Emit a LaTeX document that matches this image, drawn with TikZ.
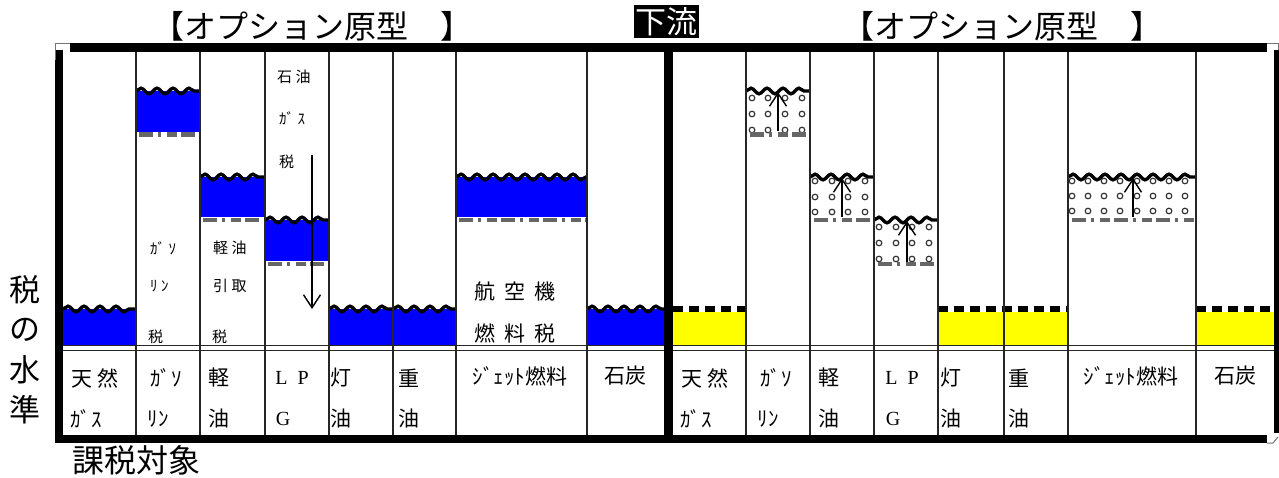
\documentclass[tikz,border=0pt]{standalone}
\usepackage{fontspec}
\setmainfont{Liberation Serif}
\newfontfamily\jp{Noto Sans CJK JP}
\usetikzlibrary{decorations.pathmorphing,arrows.meta}
\definecolor{tankblue}{RGB}{0,0,255}
\definecolor{tankyellow}{RGB}{255,255,0}
\begin{document}
\begin{tikzpicture}[x=1pt,y=-1pt,
  frame/.style={line width=8.5pt,black},
  colline/.style={line width=1.6pt,black!85},
  baseline2/.style={line width=1.2pt,black!85},
  wave/.style={line width=3.4pt,black,decorate,decoration={snake,segment length=16pt,amplitude=2.8pt}},
  hatch/.style={line width=4.5pt,black!60,dash pattern=on 14pt off 5pt on 3pt off 6pt on 10pt off 4pt},
  dashtop/.style={line width=6pt,black,dash pattern=on 10pt off 6pt},
  dotc/.style={line width=1.2pt,black!80},
  arr/.style={line width=1.4pt,black,-{Straight Barb[length=13pt,width=17pt,line width=1.4pt]}},
  title/.style={font=\jp\fontsize{32}{33}\selectfont,inner sep=0pt},
  side/.style={font=\jp\fontsize{31}{32}\selectfont,inner sep=0pt},
  cell/.style={font=\jp\fontsize{21}{22}\selectfont,inner sep=0pt},
  cellr/.style={font=\fontsize{20}{21}\selectfont,inner sep=0pt},
  small/.style={font=\jp\fontsize{15}{16}\selectfont,inner sep=0pt},
  mid/.style={font=\jp\fontsize{21}{22}\selectfont,inner sep=0pt}]
\useasboundingbox[fill=white] (0,0) rectangle (1279,478);

% ---------- titles ----------
\node[title] (tl) at (312,26) {【オプション原型　】};
\node[title] (tr) at (1002,26) {【オプション原型　】};
\node[fill=black,text=white,font=\jp\fontsize{31}{32}\selectfont,inner sep=0pt,minimum width=65pt,minimum height=33pt] (down) at (666.5,21.5) {下流};

% ---------- left panel fills (blue) ----------
\fill[tankblue] (63,309) rectangle (136,345);
\fill[tankblue] (136,91) rectangle (200,132);
\fill[tankblue] (200,177) rectangle (265,217);
\fill[tankblue] (265,220) rectangle (329,261);
\fill[tankblue] (329,309) rectangle (393,345);
\fill[tankblue] (393,309) rectangle (456,345);
\fill[tankblue] (456,177) rectangle (587,217);
\fill[tankblue] (587,309) rectangle (664,345);

% hatch under raised blue tanks
\draw[hatch] (139,134.5) -- (200,134.5);
\draw[hatch] (203,220) -- (265,220);
\draw[hatch] (268,264) -- (329,264);
\draw[hatch] (459,220) -- (587,220);

% waves on blue tanks
\draw[wave] (63,309) -- (136,309);
\draw[wave] (136,91) -- (200,91);
\draw[wave] (200,177) -- (265,177);
\draw[wave] (265,220) -- (329,220);
\draw[wave] (329,309) -- (393,309);
\draw[wave] (393,309) -- (456,309);
\draw[wave] (456,177) -- (587,177);
\draw[wave] (587,309) -- (664,309);

% ---------- right panel fills (yellow) ----------
\fill[tankyellow] (673,312) rectangle (746,345);
\fill[tankyellow] (938,312) rectangle (1068,345);
\fill[tankyellow] (1196,312) rectangle (1274,345);
\draw[dashtop] (673,308.5) -- (746,308.5);
\draw[dashtop] (938,308.5) -- (1068,308.5);
\draw[dashtop] (1196,308.5) -- (1274,308.5);

% ---------- right panel dotted tanks ----------
\foreach \cx in {752,768,785,802}{\foreach \cy in {98,114,130}{\draw[dotc] (\cx,\cy) circle[radius=2.8pt];}}
\foreach \cx in {815,832,848,865}{\foreach \cy in {181,197,212}{\draw[dotc] (\cx,\cy) circle[radius=2.8pt];}}
\foreach \cx in {879,896,912,929}{\foreach \cy in {227,243,259}{\draw[dotc] (\cx,\cy) circle[radius=2.8pt];}}
\foreach \cx in {1072,1088,1104,1120,1137,1153,1169,1185}{\foreach \cy in {181,196,211}{\draw[dotc] (\cx,\cy) circle[radius=2.8pt];}}
\draw[hatch] (750,134.5) -- (810,134.5);
\draw[hatch] (814,220) -- (874,220);
\draw[hatch] (878,264) -- (938,264);
\draw[hatch] (1072,220) -- (1196,220);
\draw[wave] (746,91) -- (810,91);
\draw[wave] (810,177) -- (874,177);
\draw[wave] (874,220) -- (938,220);
\draw[wave] (1068,177) -- (1196,177);

% ---------- arrows ----------
\coordinate (aL1) at (312,155); \coordinate (aL2) at (312,309);
\draw[arr] (aL1) -- (aL2);
\coordinate (g1) at (778,131); \coordinate (g2) at (778,92);
\coordinate (k1) at (842,217); \coordinate (k2) at (842,178);
\coordinate (p1) at (907,262); \coordinate (p2) at (907,221);
\coordinate (j1) at (1133,217); \coordinate (j2) at (1133,178);
\draw[arr] (g1) -- (g2);
\draw[arr] (k1) -- (k2);
\draw[arr] (p1) -- (p2);
\draw[arr] (j1) -- (j2);

% ---------- column lines ----------
\foreach \x in {136,200,265,329,393,456,587,746,810,874,938,1004,1068,1196}{
  \draw[colline] (\x,52) -- (\x,435);}
\draw[baseline2] (63,345.5) -- (1274,345.5);
\draw[baseline2] (63,350.5) -- (1274,350.5);

% ---------- frame ----------
\draw[frame] (70,47.5) -- (1267,47.5);
\draw[frame] (59,50) -- (59,443);
\draw[frame] (55,439) -- (1267,439);
\draw[line width=6pt] (1276.5,50) -- (1276.5,433);
\draw[line width=9pt] (668.5,52) -- (668.5,435);
\draw[line width=1pt,black!55] (55.5,60) -- (55.5,43.5) -- (70,43.5);
\draw[line width=1pt,black!55] (1267,43.5) -- (1278.5,43.5) -- (1278.5,50);
\draw[line width=1pt,black!55] (1267,443) -- (1273,443) -- (1278,437);

% ---------- interior labels ----------
\node[small,anchor=west] (gs1) at (150,248) {ｶﾞ ｿ};
\node[small,anchor=west] (gs2) at (150,286) {ﾘ ﾝ};
\node[small,anchor=west] (gs3) at (148,337) {税};
\node[small,anchor=west] (kt1) at (213,248) {軽 油};
\node[small,anchor=west] (kt2) at (213,286) {引 取};
\node[small,anchor=west] (kt3) at (212,337) {税};
\node[small,anchor=west] (lt1) at (277,77) {石 油};
\node[small,anchor=west] (lt2) at (279,118) {ｶﾞ ｽ};
\node[small,anchor=west] (lt3) at (279,162) {税};
\node[mid] (jt1) at (515,292) {航\hspace{9pt}空\hspace{9pt}機};
\node[mid] (jt2) at (515,333) {燃\hspace{9pt}料\hspace{9pt}税};

% ---------- table labels, left ----------
\node[cell] (a1) at (95,378) {天 然};
\node[cell] (a2) at (86,419) {ｶﾞｽ};
\node[cell] (b1) at (166,378) {ｶﾞｿ};
\node[cell] (b2) at (158,419) {ﾘﾝ};
\node[cell] (c1) at (219,378) {軽};
\node[cell] (c2) at (219,419) {油};
\node[cellr] (d1) at (292,378) {L\hspace{10pt}P};
\node[cellr] (d2) at (283,419) {G};
\node[cell] (e1) at (341,378) {灯};
\node[cell] (e2) at (341,419) {油};
\node[cell] (f1) at (409,378) {重};
\node[cell] (f2) at (409,419) {油};
\node[cell] (h1) at (520,376) {ｼﾞｪｯﾄ燃料};
\node[cell] (i1) at (625,376) {石炭};

% ---------- table labels, right ----------
\node[cell] (ra1) at (705,378) {天 然};
\node[cell] (ra2) at (696,419) {ｶﾞｽ};
\node[cell] (rb1) at (776,378) {ｶﾞｿ};
\node[cell] (rb2) at (768,419) {ﾘﾝ};
\node[cell] (rc1) at (829,378) {軽};
\node[cell] (rc2) at (829,419) {油};
\node[cellr] (rd1) at (902,378) {L\hspace{10pt}P};
\node[cellr] (rd2) at (893,419) {G};
\node[cell] (re1) at (951,378) {灯};
\node[cell] (re2) at (951,419) {油};
\node[cell] (rf1) at (1019,378) {重};
\node[cell] (rf2) at (1019,419) {油};
\node[cell] (rh1) at (1131,376) {ｼﾞｪｯﾄ燃料};
\node[cell] (ri1) at (1235,376) {石炭};

% ---------- side labels ----------
\node[side] (s1) at (25,290) {税};
\node[side] (s2) at (25,330) {の};
\node[side] (s3) at (25,370) {水};
\node[side] (s4) at (25,410) {準};
\node[font=\jp\fontsize{32}{33}\selectfont,inner sep=0pt] (obj) at (136,460) {課税対象};
\end{tikzpicture}
\end{document}
